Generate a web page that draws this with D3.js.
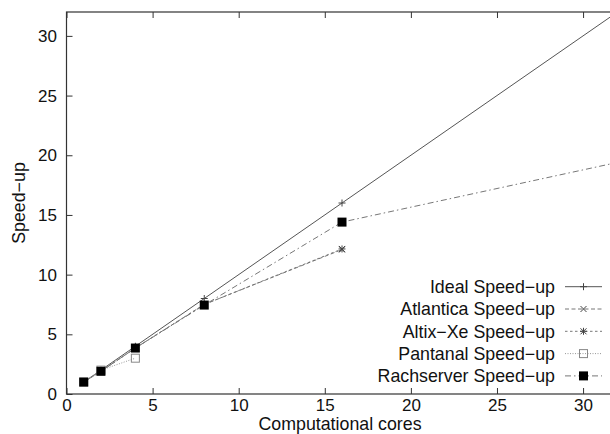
<!DOCTYPE html>
<html>
<head>
<meta charset="utf-8">
<script src="https://cdn.jsdelivr.net/npm/d3@7"></script>
<style>
  html, body { margin: 0; padding: 0; background: #fff; }
  svg { display: block; }
  text { font-family: "Liberation Sans", Arial, Helvetica, sans-serif; fill: #111; }
</style>
</head>
<body>
<svg id="chart" width="610" height="434"></svg>
<script>
// Speed-up measured on each machine versus number of computational cores
const cores      = [1, 2, 4, 8, 16, 32];
const ideal      = [1, 2, 4, 8, 16, 32];
const atlantica  = [1, 1.9, 3.85, 7.5, 12.1];
const altixXe    = [1, 1.9, 3.85, 7.5, 12.15];
const pantanal   = [1, 2.0, 3.0];
const rachserver = [1, 1.9, 3.85, 7.45, 14.4, 19.4];

const seriesNames = ["Ideal Speed\u2212up", "Atlantica Speed\u2212up", "Altix\u2212Xe Speed\u2212up",
                     "Pantanal Speed\u2212up", "Rachserver Speed\u2212up"];
const seriesValues = [ideal, atlantica, altixXe, pantanal, rachserver];

const xTicks = [0, 5, 10, 15, 20, 25, 30];
const yTicks = [0, 5, 10, 15, 20, 25, 30];

const styles = [
  { stroke: "#555", dash: null,        marker: "plus"   },
  { stroke: "#777", dash: "4,2.5",     marker: "cross"  },
  { stroke: "#777", dash: "2.5,2.5",   marker: "star"   },
  { stroke: "#999", dash: "1,1.5",     marker: "square" },
  { stroke: "#777", dash: "6,3,1.5,3", marker: "fsquare"}
];

const svg = d3.select("#chart");
const mLeft = 66.5, mRight = 617.5, mTop = 12, mBottom = 394;
const x = d3.scaleLinear().domain([0, 32]).range([mLeft, mRight]);
const y = d3.scaleLinear().domain([0, 32]).range([mBottom, mTop]);

svg.append("defs").append("clipPath").attr("id", "plotclip")
  .append("rect").attr("x", mLeft).attr("y", mTop)
  .attr("width", mRight - mLeft).attr("height", mBottom - mTop);

const fsTick = 17;
const fs = 17.8;

// axes with inward ticks
const gx = svg.append("g").attr("transform", `translate(0,${mBottom})`)
  .call(d3.axisBottom(x).tickValues(xTicks).tickSize(-6).tickSizeOuter(0).tickPadding(5));
const gxTop = svg.append("g").attr("transform", `translate(0,${mTop})`)
  .call(d3.axisTop(x).tickValues(xTicks).tickSize(-6).tickSizeOuter(0).tickFormat(""));
const gy = svg.append("g").attr("transform", `translate(${mLeft},0)`)
  .call(d3.axisLeft(y).tickValues(yTicks).tickSize(-6).tickSizeOuter(0).tickPadding(9.5));
const gyRight = svg.append("g").attr("transform", `translate(${mRight},0)`)
  .call(d3.axisRight(y).tickValues(yTicks).tickSize(-6).tickSizeOuter(0).tickFormat(""));

[gx, gxTop, gy, gyRight].forEach(g => {
  g.selectAll(".domain").remove();
  g.selectAll("line").attr("stroke", "#333").attr("stroke-width", 1);
  g.selectAll("text").attr("font-size", fsTick).attr("fill", "#111")
    .style("font-family", "'Liberation Sans', Arial, sans-serif");
});

// frame
svg.append("rect").attr("x", mLeft).attr("y", mTop)
  .attr("width", mRight - mLeft).attr("height", mBottom - mTop)
  .attr("fill", "none").attr("stroke", "#333").attr("stroke-width", 1.2);

// axis titles
svg.append("text").attr("x", 340).attr("y", 430).attr("text-anchor", "middle")
  .attr("font-size", fs).text("Computational cores");
svg.append("text").attr("transform", `translate(25,203) rotate(-90)`)
  .attr("text-anchor", "middle").attr("font-size", fs).text("Speed\u2212up");

function drawMarker(g, type, cx, cy) {
  const m = g.append("g").attr("transform", `translate(${cx},${cy})`);
  const s = 3.5;
  if (type === "plus" || type === "star") {
    m.append("path").attr("d", `M${-s},0H${s}M0,${-s}V${s}`).attr("stroke", "#444").attr("stroke-width", 1);
  }
  if (type === "cross" || type === "star") {
    const c = 3;
    m.append("path").attr("d", `M${-c},${-c}L${c},${c}M${-c},${c}L${c},${-c}`)
      .attr("stroke", "#444").attr("stroke-width", 1);
  }
  if (type === "square") {
    m.append("rect").attr("x", -4).attr("y", -4).attr("width", 8).attr("height", 8)
      .attr("fill", "none").attr("stroke", "#888").attr("stroke-width", 1);
  }
  if (type === "fsquare") {
    m.append("rect").attr("x", -4.5).attr("y", -4.5).attr("width", 9).attr("height", 9)
      .attr("fill", "#000");
  }
}

const plot = svg.append("g").attr("clip-path", "url(#plotclip)");
const line = d3.line().x(d => x(d[0])).y(d => y(d[1]));

seriesValues.forEach((vals, i) => {
  const pts = vals.map((v, k) => [cores[k], v]);
  const st = styles[i];
  plot.append("path").datum(pts).attr("d", line)
    .attr("fill", "none").attr("stroke", st.stroke).attr("stroke-width", 1)
    .attr("stroke-dasharray", st.dash);
});
seriesValues.forEach((vals, i) => {
  const st = styles[i];
  vals.forEach((v, k) => drawMarker(plot, st.marker, x(cores[k]), y(v)));
});

// legend
const legendRight = 555, legendTop = 286.7, rowH = 22.3;
seriesNames.forEach((name, i) => {
  const cy = legendTop + i * rowH;
  const st = styles[i];
  svg.append("text").attr("x", legendRight).attr("y", cy).attr("dy", "0.35em")
    .attr("text-anchor", "end").attr("font-size", fs).text(name);
  svg.append("line").attr("x1", 565).attr("x2", 602).attr("y1", cy).attr("y2", cy)
    .attr("stroke", st.stroke).attr("stroke-width", 1).attr("stroke-dasharray", st.dash);
  drawMarker(svg, st.marker, 583.5, cy);
});
</script>
</body>
</html>
